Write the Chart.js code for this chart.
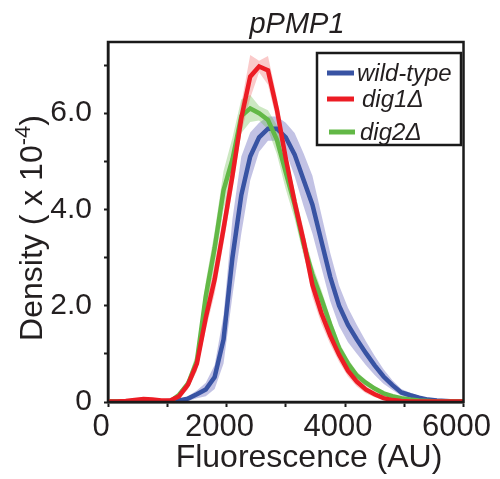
<!DOCTYPE html>
<html>
<head>
<meta charset="utf-8">
<script src="https://cdn.jsdelivr.net/npm/chart.js@4.4.1/dist/chart.umd.min.js"></script>
<style>
  html, body { margin: 0; padding: 0; background: #fff; }
  canvas { display: block; }
</style>
</head>
<body>
<canvas id="chart" width="500" height="479"></canvas>
<script>
// fluorescence grid (AU)
const fluor = [0, 150, 300, 450, 600, 750, 900, 1050, 1200, 1350, 1500, 1650, 1800, 1950, 2100, 2250,
  2400, 2550, 2700, 2850, 3000, 3150, 3300, 3450, 3600, 3750, 3900, 4050, 4200, 4350, 4500, 4650,
  4800, 4950, 5100, 5250, 5400, 5550, 5700, 5850, 6000];

// density (x 10^-4)
const wildType = [0.01, 0.01, 0.01, 0.01, 0.01, 0.01, 0.01, 0.02, 0.03, 0.07, 0.16, 0.26, 0.52, 1.3, 3.0, 4.3,
  5.1, 5.5, 5.68, 5.68, 5.5, 5.14, 4.62, 4.1, 3.35, 2.6, 2.0, 1.6, 1.3, 1.02, 0.76, 0.53,
  0.35, 0.2, 0.14, 0.09, 0.05, 0.03, 0.02, 0.01, 0.01];
const dig1 = [0.01, 0.01, 0.02, 0.04, 0.06, 0.05, 0.03, 0.03, 0.12, 0.36, 0.8, 1.75, 2.55, 3.6, 4.7, 5.9,
  6.76, 6.97, 6.89, 6.08, 5.06, 4.15, 3.35, 2.43, 1.85, 1.38, 0.98, 0.65, 0.42, 0.26, 0.16, 0.08,
  0.04, 0.02, 0.01, 0.01, 0.01, 0.01, 0.01, 0.01, 0.01];
const dig2 = [0.01, 0.01, 0.01, 0.01, 0.01, 0.01, 0.01, 0.01, 0.15, 0.38, 0.85, 2.2, 3.2, 4.4, 5.04, 5.94,
  6.1, 6.0, 5.86, 5.45, 4.77, 4.1, 3.29, 2.65, 2.15, 1.61, 1.12, 0.8, 0.55, 0.4, 0.28, 0.18,
  0.12, 0.08, 0.05, 0.03, 0.02, 0.01, 0.01, 0.01, 0.01];

// half-width of the shaded bands
const wildTypeErr = [0.02, 0.02, 0.02, 0.02, 0.02, 0.02, 0.02, 0.02, 0.03, 0.05, 0.08, 0.14, 0.25, 0.5, 0.8, 0.8,
  0.5, 0.3, 0.25, 0.25, 0.3, 0.45, 0.55, 0.6, 0.55, 0.5, 0.42, 0.36, 0.3, 0.25, 0.2, 0.15,
  0.1, 0.07, 0.05, 0.04, 0.03, 0.02, 0.02, 0.02, 0.02];
const dig1Err = [0.02, 0.02, 0.02, 0.02, 0.02, 0.02, 0.02, 0.02, 0.05, 0.1, 0.15, 0.25, 0.3, 0.3, 0.3, 0.3,
  0.45, 0.12, 0.3, 0.25, 0.2, 0.2, 0.25, 0.25, 0.22, 0.18, 0.15, 0.12, 0.1, 0.08, 0.06, 0.04,
  0.03, 0.02, 0.02, 0.02, 0.02, 0.02, 0.02, 0.02, 0.02];
const dig2Err = [0.02, 0.02, 0.02, 0.02, 0.02, 0.02, 0.02, 0.02, 0.06, 0.1, 0.2, 0.3, 0.35, 0.4, 0.45, 0.35,
  0.28, 0.15, 0.2, 0.3, 0.35, 0.3, 0.25, 0.2, 0.18, 0.15, 0.12, 0.1, 0.08, 0.06, 0.05, 0.04,
  0.03, 0.03, 0.02, 0.02, 0.02, 0.02, 0.02, 0.02, 0.02];

const seriesLabels = ["wild-type", "dig1\u0394", "dig2\u0394"];
const xTicks = [0, 1000, 2000, 3000, 4000, 5000, 6000];
const yTicks = [0, 1, 2, 3, 4, 5, 6, 7];

const FONT = '"Liberation Sans", Arial, Helvetica, sans-serif';
const BLUE = "#3853a3";
const RED = "#ec1c24";
const GREEN = "#62b846";

const line = (label, values, color) => ({
  label,
  data: fluor.map((x, i) => ({ x, y: values[i] })),
  borderColor: color,
  borderWidth: 4.5,
  pointRadius: 0,
  tension: 0,
  fill: false
});

const bandHi = (values, err, color) => ({
  label: "",
  data: fluor.map((x, i) => ({ x, y: values[i] + err[i] })),
  borderWidth: 0,
  pointRadius: 0,
  tension: 0,
  backgroundColor: color,
  fill: "+1"
});

const bandLo = (values, err) => ({
  label: "",
  data: fluor.map((x, i) => ({ x, y: Math.max(0, values[i] - err[i]) })),
  borderWidth: 0,
  pointRadius: 0,
  tension: 0,
  fill: false
});

const decorations = {
  id: "decorations",
  afterDraw(chart) {
    const { ctx, chartArea } = chart;
    ctx.save();
    // frame
    ctx.strokeStyle = "#1a1a1a";
    ctx.lineWidth = 2.5;
    ctx.strokeRect(chartArea.left, chartArea.top, chartArea.right - chartArea.left, chartArea.bottom - chartArea.top);

    ctx.fillStyle = "#231f20";
    // title
    ctx.font = `italic 29px ${FONT}`;
    ctx.textAlign = "center";
    ctx.textBaseline = "alphabetic";
    ctx.fillText("pPMP1", 297, 33);

    // x title
    ctx.font = `32px ${FONT}`;
    ctx.fillText("Fluorescence (AU)", 309, 467);

    // y title with superscript
    ctx.translate(42, 228);
    ctx.rotate(-Math.PI / 2);
    ctx.textAlign = "left";
    const main = "Density ( x 10";
    const sup = "-4";
    const close = ")";
    ctx.font = `32px ${FONT}`;
    const wMain = ctx.measureText(main).width;
    const wClose = ctx.measureText(close).width;
    ctx.font = `22px ${FONT}`;
    const wSup = ctx.measureText(sup).width;
    let x0 = -(wMain + wSup + wClose) / 2;
    ctx.font = `32px ${FONT}`;
    ctx.fillText(main, x0, 0);
    ctx.font = `22px ${FONT}`;
    ctx.fillText(sup, x0 + wMain, -12);
    ctx.font = `32px ${FONT}`;
    ctx.fillText(close, x0 + wMain + wSup, 0);
    ctx.restore();

    // legend
    ctx.save();
    ctx.fillStyle = "#fff";
    ctx.fillRect(317, 53, 144, 92);
    ctx.strokeStyle = "#1a1a1a";
    ctx.lineWidth = 2.5;
    ctx.strokeRect(317, 53, 144, 92);
    const rows = [
      { color: BLUE, y: 73, x1: 327, x2: 354, tx: 357 },
      { color: RED, y: 99, x1: 327, x2: 354, tx: 362 },
      { color: GREEN, y: 132, x1: 329, x2: 355, tx: 360 }
    ];
    ctx.font = `italic 24px ${FONT}`;
    ctx.textAlign = "left";
    ctx.textBaseline = "middle";
    rows.forEach((r, i) => {
      ctx.strokeStyle = r.color;
      ctx.lineWidth = 5;
      ctx.beginPath();
      ctx.moveTo(r.x1, r.y);
      ctx.lineTo(r.x2, r.y);
      ctx.stroke();
      ctx.fillStyle = "#231f20";
      ctx.fillText(seriesLabels[i], r.tx, r.y + 1);
    });
    ctx.restore();
  }
};

new Chart(document.getElementById("chart"), {
  type: "line",
  data: {
    datasets: [
      line(seriesLabels[1], dig1, RED),
      line(seriesLabels[2], dig2, GREEN),
      line(seriesLabels[0], wildType, BLUE),
      bandHi(dig1, dig1Err, "rgba(240, 90, 90, 0.32)"),
      bandLo(dig1, dig1Err),
      bandHi(dig2, dig2Err, "rgba(110, 190, 80, 0.35)"),
      bandLo(dig2, dig2Err),
      bandHi(wildType, wildTypeErr, "rgba(120, 120, 195, 0.45)"),
      bandLo(wildType, wildTypeErr)
    ]
  },
  options: {
    responsive: false,
    animation: false,
    layout: { padding: { top: 42, right: 32, left: 0, bottom: 0 } },
    plugins: {
      legend: { display: false },
      tooltip: { enabled: false }
    },
    scales: {
      x: {
        type: "linear",
        min: 0,
        max: 6000,
        afterFit: (s) => { s.height = 77; },
        afterBuildTicks: (s) => { s.ticks = xTicks.map((v) => ({ value: v })); },
        grid: { drawOnChartArea: false, drawTicks: true, tickLength: 5, tickColor: "#1a1a1a", tickWidth: 2 },
        border: { display: true, color: "#1a1a1a", width: 2.5 },
        ticks: {
          color: "#231f20",
          font: { family: FONT, size: 31 },
          padding: 2,
          labelOffset: -7,
          maxRotation: 0,
          autoSkip: false,
          callback: (v) => (v % 2000 === 0 ? String(v) : "")
        }
      },
      y: {
        type: "linear",
        min: 0,
        max: 7.48,
        afterFit: (s) => { s.width = 108; },
        afterBuildTicks: (s) => { s.ticks = yTicks.map((v) => ({ value: v })); },
        grid: { drawOnChartArea: false, drawTicks: true, tickLength: 4, tickColor: "#1a1a1a", tickWidth: 2 },
        border: { display: true, color: "#1a1a1a", width: 2.5 },
        ticks: {
          color: "#231f20",
          font: { family: FONT, size: 30 },
          padding: 12,
          autoSkip: false,
          callback: (v) => (v % 2 === 0 ? (v === 0 ? "0" : v.toFixed(1)) : "")
        }
      }
    }
  },
  plugins: [decorations]
});
</script>
</body>
</html>
